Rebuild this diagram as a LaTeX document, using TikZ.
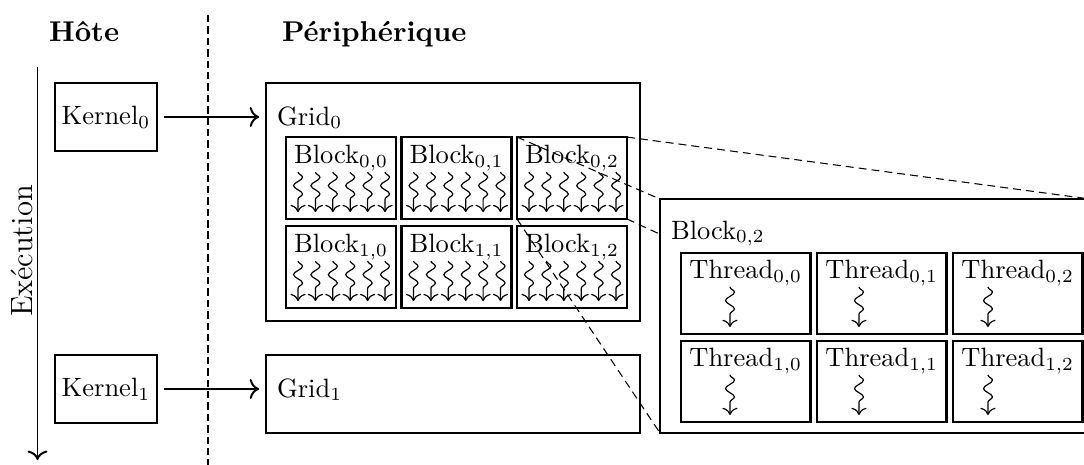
\documentclass[tikz,border=0pt]{standalone}
\usepackage{fontspec}
\usetikzlibrary{decorations.pathmorphing,calc,arrows.meta}
\begin{document}
\begin{tikzpicture}[x=0.3774pt, y=-0.3774pt,
  every node/.style={inner sep=0pt, outer sep=0pt},
  kernelbox/.style={draw, line width=0.7pt, minimum width=38.5pt, minimum height=25.7pt},
  gridbox/.style={draw, line width=0.7pt, minimum width=141.1pt},
  blockbox/.style={draw, line width=1pt, minimum width=41.5pt, minimum height=30.9pt},
  threadbox/.style={draw, line width=1pt, minimum width=48.9pt, minimum height=30.6pt},
  zoombox/.style={minimum width=162.3pt, minimum height=88.3pt},
  head/.style={font=\fontsize{10.8}{13}\selectfont\bfseries, anchor=base west},
  lbl/.style={anchor=base},
  lblw/.style={anchor=base west},
  flow/.style={-{To[scale=1.1]}, line width=0.75pt, shorten <=2.6pt, shorten >=2.6pt},
  sepline/.style={line width=0.55pt, dash pattern=on 2.8pt off 1.5pt},
  zoomline/.style={line width=0.4pt, dash pattern=on 3pt off 1.9pt},
  work/.style={-{To[scale=1.05]}, line width=0.45pt, decorate,
    decoration={snake, amplitude=1.7pt, segment length=6.3pt, post length=2.5pt}}
]
\useasboundingbox (0,0) rectangle (1084,464);
\clip (0,0) rectangle (1084,464);

% headings and host/device separator
\node[head] (host) at (49,41) {Hôte};
\node[head] (dev) at (282,41) {Périphérique};
\coordinate (sep-top) at (208,15);
\coordinate (sep-bot) at (208,470);
\draw[sepline] (sep-top) -- (sep-bot);

% execution time axis
\coordinate (exec-top) at (37.5,67);
\coordinate (exec-end) at (37.5,460);
\draw[-{To[scale=1.1]}, line width=0.75pt] (exec-top) -- (exec-end);
\node[rotate=90, anchor=base, font=\fontsize{11.6}{14}\selectfont] (exec) at (32,251) {Exécution};

% kernels on the host
\node[kernelbox] (k0) at (106,117) {Kernel$_0$};
\node[kernelbox] (k1) at (106,389) {Kernel$_1$};

% grids on the device
\node[gridbox, minimum height=89.8pt] (g0) at (453,202) {};
\node[gridbox, minimum height=29.4pt] (g1) at (453,394) {};
\node[lblw] (g0-t) at (277,125) {Grid$_0$};
\node[lblw] (g1-t) at (277,397) {Grid$_1$};

\draw[flow] (k0.east) -- (k0.east -| g0.west);
\draw[flow] (k1.east) -- (k1.east -| g1.west);

% blocks of grid 0, each with six threads
\foreach \i in {0,1}{
  \foreach \j in {0,1,2}{
    \node[blockbox] (b\i\j) at ({341+115.5*\j},{178+89*\i}) {};
    \node[lbl] (b\i\j-t) at ($(b\i\j.north)+(0,26)$) {Block$_{\i,\j}$};
    \foreach \k in {0,...,5}{
      \draw[work] ($(b\i\j.north west)+({12+17.4*\k},35)$) -- ++(0,40);
    }
  }
}

% enlarged view of block (0,2)
\node[zoombox] (big) at (875,316) {};
\draw[zoomline] (b02.north west) -- (big.north west);
\draw[zoomline] (b02.north east) -- (big.north east);
\draw[zoomline] (b02.south west) -- (big.south west);
\draw[zoomline] (b02.south east) -- (big.south east);
\draw[line width=0.7pt, fill=white] (big.north west) rectangle (big.south east);
\node[lblw] (big-t) at (671,239) {Block$_{0,2}$};

\foreach \i in {0,1}{
  \foreach \j in {0,1,2}{
    \node[threadbox] (t\i\j) at ({745.75+136*\j},{293.5+88*\i}) {};
    \node[lbl] (t\i\j-t) at ($(t\i\j.north)+(0,26)$) {Thread$_{\i,\j}$};
    \draw[work] ($(t\i\j.north west)+({49-7*\j},34)$) -- ++(0,40);
  }
}
\end{tikzpicture}
\end{document}
